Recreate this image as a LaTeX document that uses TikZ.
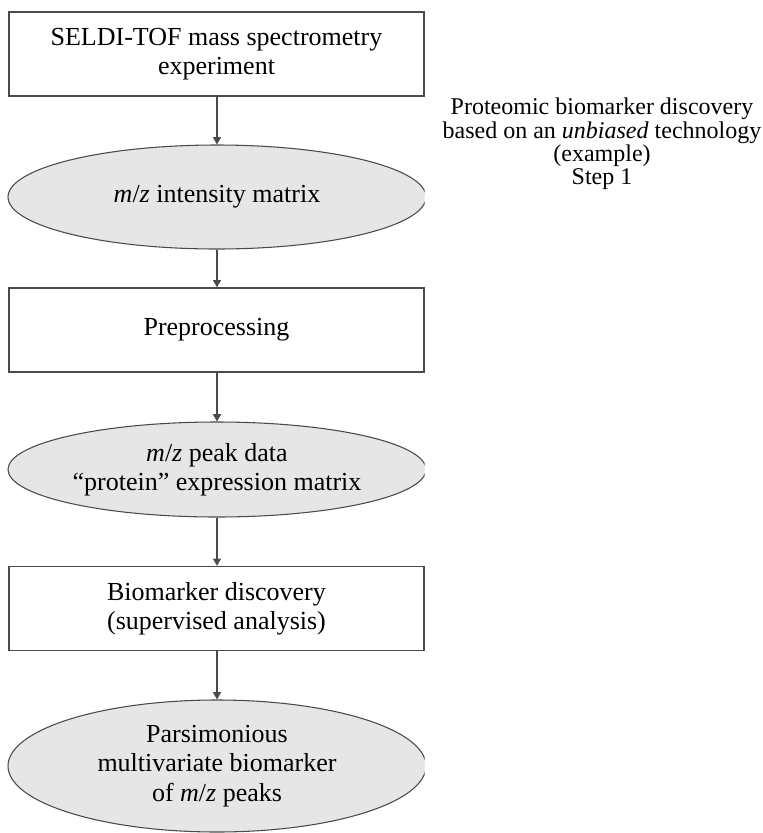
\documentclass[tikz,border=0pt]{standalone}
\usepackage{fontspec}
\setmainfont{Liberation Serif}
\usetikzlibrary{arrows.meta,shapes.geometric}
\definecolor{edgegray}{HTML}{4A4A4A}
\definecolor{ovalfill}{HTML}{E6E6E6}
\begin{document}
\begin{tikzpicture}[x=0.75pt,y=-0.75pt,
  every node/.style={font=\fontsize{19.5}{22}\selectfont, align=center, text=black},
  stepbox/.style={draw=edgegray, line width=1pt, fill=white, rectangle,
    minimum width=311.25pt, minimum height=63pt, inner sep=0pt},
  dataoval/.style={draw=edgegray, line width=0.8pt, fill=ovalfill, ellipse,
    minimum width=313.5pt, inner sep=0pt},
  flow/.style={draw=edgegray, line width=1pt, -{Triangle[width=6pt,length=5.5pt]}}]
\useasboundingbox (0,0) rectangle (763,833);

\node[stepbox] (exp) at (216.5,54) {SELDI-TOF mass spectrometry\\experiment};
\node[stepbox] (prep) at (216.5,330) {Preprocessing};
\node[stepbox] (disc) at (216.5,608.5) {Biomarker discovery\\(supervised analysis)};

% the ovals are cut flat on their right side, level with the boxes
\begin{scope}
  \clip (0,0) rectangle (424.5,833);
  \node[dataoval, minimum height=78pt] (intens) at (217,197) {\textit{m}/\textit{z} intensity matrix};
  \node[dataoval, minimum height=71.25pt] (peaks) at (217,469.5) {\textit{m}/\textit{z} peak data\\``protein'' expression matrix};
  \node[dataoval, minimum height=99pt] (marker) at (217,766) {Parsimonious\\multivariate biomarker\\of \textit{m}/\textit{z} peaks};
\end{scope}

\node[font=\fontsize{18}{17.5}\selectfont] (title) at (602,144)
  {Proteomic biomarker discovery\\based on an \textit{unbiased} technology\\(example)\\Step 1};

\draw[flow] (exp.south -| intens) -- (intens);
\draw[flow] (intens) -- (prep.north -| intens);
\draw[flow] (prep.south -| intens) -- (peaks);
\draw[flow] (peaks) -- (disc.north -| peaks);
\draw[flow] (disc.south -| peaks) -- (marker);
\end{tikzpicture}
\end{document}
